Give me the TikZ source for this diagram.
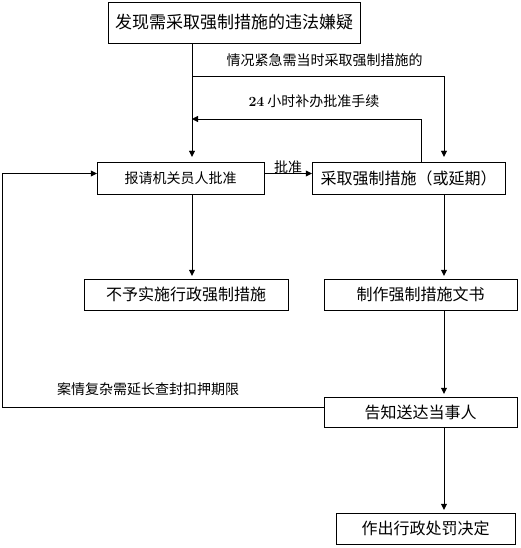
\documentclass[tikz,border=0pt]{standalone}
\usepackage{fontspec}
\newfontfamily\cjk{Noto Sans CJK SC}
\usetikzlibrary{arrows.meta,positioning}
\colorlet{penColor}{black}

\begin{document}
\begin{tikzpicture}[x=1pt,y=-1pt,
    >={Triangle[width=6pt,length=6pt]},
    box/.style={draw=penColor,thin,inner sep=0pt,font=\cjk\fontsize{16}{16}\selectfont},
    lbl/.style={inner sep=0pt,font=\cjk\fontsize{14}{14}\selectfont},
    flow/.style={->,penColor,thin}]
    \useasboundingbox (0,0) rectangle (520,548);

    % boxes
    \node[box,minimum width=252pt,minimum height=41pt,font=\cjk\fontsize{17}{17}\selectfont] (faxian) at (234,22.5) {发现需采取强制措施的违法嫌疑};
    \node[box,minimum width=167pt,minimum height=32pt,font=\cjk\fontsize{14}{14}\selectfont] (baoqing) at (180.5,178) {报请机关员人批准};
    \node[box,minimum width=193pt,minimum height=32pt] (caiqu) at (408.5,178) {采取强制措施（或延期）};
    \node[box,minimum width=204pt,minimum height=31pt] (buyu) at (186,294.5) {不予实施行政强制措施};
    \node[box,minimum width=193pt,minimum height=31pt] (zhizuo) at (420.5,294.5) {制作强制措施文书};
    \node[box,minimum width=193pt,minimum height=30pt] (gaozhi) at (420.5,412) {告知送达当事人};
    \node[box,minimum width=179pt,minimum height=31pt] (zuochu) at (425.5,528.5) {作出行政处罚决定};

    % labels
    \node[lbl] (jinji) at (324.5,60) {情况紧急需当时采取强制措施的};
    \node[lbl] (buban) at (314,101) {{\rmfamily\bfseries 24} 小时补办批准手续};
    \node[lbl] (pizhun) at (288,167) {批准};
    \node[lbl] (yanchang) at (148,389) {案情复杂需延长查封扣押期限};

    % turning points
    \coordinate (mid) at (192,76);
    \coordinate (right) at (444,76);
    \coordinate (back) at (421,119);
    \coordinate (far) at (2,407);

    % connectors
    \draw[flow,shorten >=5pt] (faxian.south -| mid) -- (baoqing.north -| mid);
    \draw[flow,shorten >=5pt] (mid) -- (right) -- (caiqu.north -| right);
    \draw[flow] (caiqu.north -| back) -- (back) -- (back -| mid);
    \draw[flow] ([yshift=4.5pt]baoqing.east) -- ([yshift=4.5pt]caiqu.west);
    \draw[flow,shorten >=3pt] (baoqing.south -| mid) -- (buyu.north -| mid);
    \draw[flow,shorten >=3pt] (caiqu.south -| right) -- (zhizuo.north -| right);
    \draw[flow,shorten >=3pt] (zhizuo.south -| right) -- (gaozhi.north -| right);
    \draw[flow,shorten >=3pt] (gaozhi.south -| right) -- (zuochu.north -| right);
    \draw[flow] (gaozhi.west |- far) -- (far) -- ([yshift=4.5pt]far |- baoqing.west) -- ([yshift=4.5pt]baoqing.west);
\end{tikzpicture}
\end{document}
